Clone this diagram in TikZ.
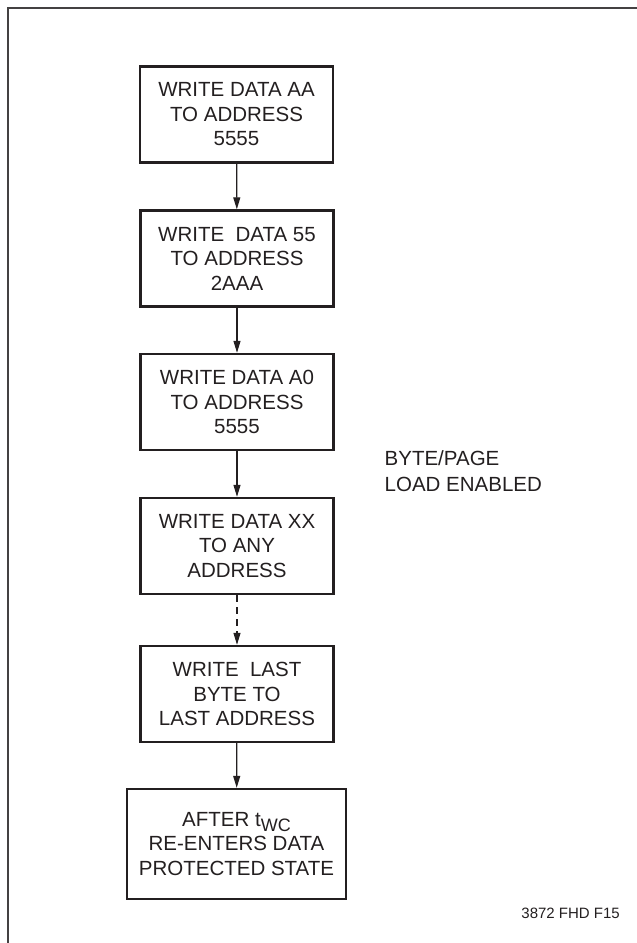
\documentclass[tikz,border=0pt]{standalone}
\usepackage{fontspec}
\setmainfont{Liberation Sans}
\usetikzlibrary{arrows.meta}
\definecolor{ink}{HTML}{231F20}
\begin{document}
\begin{tikzpicture}[x=1pt,y=-1pt,
  box/.style={draw=ink,line width=2.4pt,rectangle,minimum width=193pt,minimum height=96pt,inner sep=0pt,align=center,text=ink,font=\fontsize{20.5}{24.5}\selectfont},
  conn/.style={draw=ink,line width=1.2pt,-{Triangle[length=12pt,width=7pt]}},
  lbl/.style={text=ink,align=left,inner sep=0pt}]
\useasboundingbox (0,0) rectangle (637,943);
\draw[ink!85,line width=2pt] (7.5,950) -- (7.5,8) -- (645,8);
\node[box] (b1) at (236.5,114.5) {WRITE DATA AA\\TO ADDRESS\\5555};
\node[box] (b2) at (237,258.5) {WRITE\ \ DATA 55\\TO ADDRESS\\2AAA};
\node[box] (b3) at (237,402) {WRITE DATA A0\\TO ADDRESS\\5555};
\node[box] (b4) at (237,546) {WRITE DATA XX\\TO ANY\\ADDRESS};
\node[box] (b5) at (237,694) {WRITE\ \ LAST\\BYTE TO\\LAST ADDRESS};
\node[box,minimum width=219pt,minimum height=110pt] (b6) at (236.5,844) {AFTER t\raisebox{-5pt}{\fontsize{18}{18}\selectfont WC}\\RE-ENTERS DATA\\PROTECTED STATE};
\draw[conn] (b1) -- (b2);
\draw[conn] (b2) -- (b3);
\draw[conn] (b3) -- (b4);
\draw[conn,dash pattern=on 7pt off 5pt] (b4) -- (b5);
\draw[conn] (b5) -- (b6);
\node[lbl,anchor=north west,font=\fontsize{20.5}{26}\selectfont] (en) at (384.5,450) {BYTE/PAGE\\LOAD ENABLED};
\node[lbl,anchor=east,font=\fontsize{15}{18}\selectfont] (id) at (620,913) {3872 FHD F15};
\end{tikzpicture}
\end{document}
